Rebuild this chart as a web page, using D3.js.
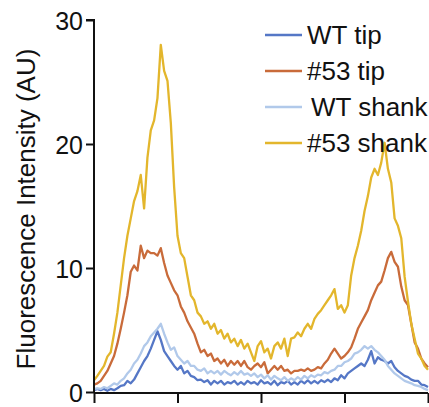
<!DOCTYPE html>
<html>
<head>
<meta charset="utf-8">
<script src="https://cdn.jsdelivr.net/npm/d3@7"></script>
<style>
  body { margin: 0; background: #fff; overflow: hidden; }
  text { font-family: "Liberation Sans", Arial, sans-serif; fill: #111; }
</style>
</head>
<body>
<script>
// position along the profile (0..100), one sample per unit
const positions = d3.range(0, 101);

const wtTip = [
  0.15, 0.25, 0.15, 0.25, 0.1, 0.25, 0.15, 0.3, 0.5, 0.55,
  0.9, 0.7, 1.0, 1.5, 2.0, 2.5, 2.9, 3.5, 4.2, 4.9,
  4.2, 3.3, 2.9, 2.5, 2.1, 1.8, 2.1, 1.5, 1.7, 1.3,
  1.2, 0.95, 1.0, 0.8, 0.95, 0.6, 0.9, 0.7, 0.9, 0.6,
  0.8, 0.7, 0.9, 0.6, 0.8, 0.6, 0.9, 0.7, 0.8, 0.6,
  0.95, 0.7, 0.8, 0.6, 0.9, 0.55, 0.8, 0.7, 0.9, 0.6,
  0.8, 0.6, 0.9, 0.7, 0.95, 0.7, 0.9, 0.7, 0.95, 0.8,
  1.0, 0.8, 1.1, 0.95, 1.35, 1.1, 1.5, 1.7, 1.9, 2.1,
  2.3, 2.1, 2.6, 3.3, 2.3, 2.8, 2.6, 2.5, 2.3, 2.5,
  2.0, 1.7, 1.5, 1.3, 1.2, 1.0, 0.9, 0.9, 0.6, 0.55,
  0.4
];

const mutTip = [
  0.6, 0.7, 0.9, 1.3, 1.7, 2.3, 2.9, 3.9, 5.1, 6.4,
  7.8, 9.7, 10.2, 9.8, 11.8, 10.8, 11.4, 11.2, 11.2, 11.0,
  11.6, 10.4, 9.4, 8.8, 8.2, 7.8, 6.9, 6.4, 5.7, 5.2,
  4.7, 3.9, 3.2, 3.4, 2.9, 3.1, 2.5, 2.7, 2.3, 2.6,
  2.1, 2.5, 2.2, 2.5, 2.1, 2.5, 2.0, 1.8, 2.1, 2.3,
  2.0, 2.4, 1.5, 1.8, 2.1, 1.8, 2.1, 1.7, 1.8, 1.5,
  1.7, 1.7, 1.8, 1.7, 1.9, 1.7, 1.8, 2.0, 1.9, 2.3,
  2.6, 3.1, 3.5, 3.1, 2.7, 2.9, 3.2, 3.6, 4.3, 5.1,
  5.6, 6.1, 6.6, 7.4, 8.0, 8.6, 8.9, 9.8, 10.8, 11.3,
  10.5, 10.1, 8.5, 7.4, 7.0, 5.5, 4.0, 3.5, 2.7, 2.3,
  2.0
];

const wtShank = [
  0.25, 0.3, 0.25, 0.4, 0.3, 0.5, 0.7, 0.6, 0.9, 1.1,
  1.5, 1.8, 2.3, 2.6, 3.1, 3.7, 4.0, 4.5, 4.8, 5.1,
  5.5, 4.7, 4.0, 3.4, 3.6, 2.9, 2.6, 2.3, 2.5, 2.1,
  2.1, 1.8, 1.7, 1.9, 1.5, 1.7, 1.5, 1.7, 1.4, 1.7,
  1.5, 1.35, 1.6, 1.4, 1.7, 1.4, 1.5, 1.3, 1.5, 1.2,
  1.4, 1.1, 1.35, 1.0, 1.3, 1.1, 0.95, 1.2, 0.9, 1.1,
  0.95, 1.2, 1.0, 1.3, 1.1, 1.35, 1.2, 1.4, 1.35, 1.6,
  1.5, 1.7, 1.8, 2.1, 2.1, 2.4, 2.5, 2.7, 3.1, 3.2,
  3.4, 3.7, 3.5, 3.7, 3.4, 3.2, 2.9, 2.6, 2.1, 1.8,
  1.5, 1.3, 1.1, 0.9, 0.8, 0.7, 0.55, 0.5, 0.4, 0.25,
  0.15
];

const mutShank = [
  0.95, 1.3, 1.7, 2.1, 2.85, 3.2, 4.7, 6.4, 8.6, 10.8,
  12.6, 14.0, 15.4, 16.2, 17.5, 14.8, 18.9, 21.1, 21.9, 23.7,
  28.0, 25.9, 25.1, 21.7, 16.5, 12.6, 11.2, 10.8, 9.3, 7.8,
  7.4, 6.4, 6.1, 5.5, 5.7, 5.1, 5.5, 4.7, 5.0, 4.3,
  4.7, 4.0, 4.3, 3.7, 4.2, 3.5, 3.9, 3.2, 2.5, 3.7,
  4.1, 3.2, 3.5, 2.7, 3.7, 4.0, 3.5, 4.3, 2.9, 4.3,
  4.4, 4.8, 4.5, 5.1, 5.5, 5.1, 5.9, 6.3, 6.6, 7.0,
  7.4, 7.8, 8.3, 6.7, 7.0, 6.4, 7.0, 9.4, 10.8, 11.8,
  13.0, 14.6, 15.8, 17.3, 18.0, 17.5, 18.5, 20.1, 18.0, 16.9,
  14.0, 13.4, 12.4, 9.3, 7.3, 5.5, 4.3, 3.1, 2.7, 2.1,
  1.8
];

const seriesNames = ["WT tip", "#53 tip", "WT shank", "#53 shank"];
const seriesValues = [wtTip, mutTip, wtShank, mutShank];
const seriesColors = ["#5577c6", "#c96b3a", "#b1c9ea", "#e3b62c"];

const yTicks = [0, 10, 20, 30];
const xTicks = [0, 25, 50, 75, 100];

// Set the dimensions and margins of the diagram
const W = 429, H = 407;
const margin = {top: 20, right: 1, bottom: 7, left: 94};

const svg = d3.select("body").append("svg")
    .attr("width", W)
    .attr("height", H);

const x = d3.scaleLinear().domain([0, 100]).range([margin.left, W - margin.right]);
const y = d3.scaleLinear().domain([0, 30]).range([H - margin.bottom - 8, margin.top]);

// lines
const line = d3.line()
    .x((d, i) => x(positions[i]))
    .y(d => y(d));

svg.append("g")
    .selectAll("path")
    .data(seriesValues)
    .join("path")
    .attr("d", line)
    .attr("fill", "none")
    .attr("stroke", (d, i) => seriesColors[i])
    .attr("stroke-width", 2.3)
    .attr("stroke-linejoin", "round");

// axes
const yAxis = svg.append("g")
    .attr("transform", `translate(${margin.left},0)`)
    .call(d3.axisLeft(y).tickValues(yTicks).tickSize(8).tickPadding(3));

const xAxis = svg.append("g")
    .attr("transform", `translate(0,${y(0) + 1})`)
    .call(d3.axisBottom(x).tickValues(xTicks).tickSize(10).tickFormat(""));

[yAxis, xAxis].forEach(a => {
    a.select(".domain").attr("stroke", "#111").attr("stroke-width", 2);
    a.selectAll(".tick line").attr("stroke", "#111").attr("stroke-width", 2);
});
yAxis.select(".domain").attr("d", `M-8,${y(30)}H0V${y(0) + 1}`);
xAxis.select(".domain").attr("d", `M${x(0)},0H${x(100)}`);
yAxis.selectAll(".tick text")
    .style("font-size", "25px")
    .attr("fill", "#111")
    .attr("dy", "0.36em");

// y label
svg.append("text")
    .attr("transform", `translate(35,${(y(0) + y(30)) / 2 + 3}) rotate(-90)`)
    .attr("text-anchor", "middle")
    .style("font-size", "26px")
    .text("Fluorescence Intensity (AU)");

// legend
const legend = svg.append("g")
    .selectAll("g")
    .data(seriesNames)
    .join("g")
    .attr("transform", (d, i) => `translate(265,${35 + i * 36})`);

legend.append("line")
    .attr("x1", 0).attr("x2", 37)
    .attr("stroke", (d, i) => seriesColors[i])
    .attr("stroke-width", 2.3);

legend.append("text")
    .attr("x", (d, i) => i === 2 ? 46 : 42)
    .attr("dy", "0.35em")
    .style("font-size", "26px")
    .text(d => d);
</script>
</body>
</html>
